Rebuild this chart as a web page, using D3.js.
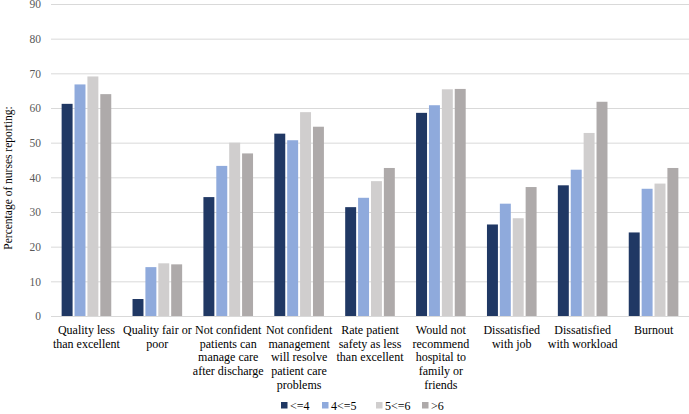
<!DOCTYPE html>
<html><head><meta charset="utf-8">
<script src="https://cdn.jsdelivr.net/npm/d3@7"></script>
<style>body{margin:0;background:#fff}svg{display:block}</style>
</head><body>
<svg id="c" width="689" height="414"></svg>
<script>
const categories = [
  ["Quality less","than excellent"],
  ["Quality fair or","poor"],
  ["Not confident","patients can","manage care","after discharge"],
  ["Not confident","management","will resolve","patient care","problems"],
  ["Rate patient","safety as less","than excellent"],
  ["Would not","recommend","hospital to","family or","friends"],
  ["Dissatisfied","with job"],
  ["Dissatisfied","with workload"],
  ["Burnout"]
];
const seriesNames = ["<=4","4<=5","5<=6",">6"];
const s1 = [61.2, 4.9, 34.3, 52.6, 31.4, 58.6, 26.4, 37.7, 24.1];
const s2 = [66.8, 14.1, 43.3, 50.7, 34.1, 60.8, 32.4, 42.2, 36.7];
const s3 = [69.1, 15.2, 50.0, 58.8, 38.9, 65.4, 28.2, 52.8, 38.2];
const s4 = [64.0, 14.9, 46.9, 54.6, 42.7, 65.5, 37.2, 61.8, 42.7];
const yTicks = [0,10,20,30,40,50,60,70,80,90];
const colors = ["#203864","#8faadc","#d0cece","#aeaaaa"];

(function(){
const series = [s1,s2,s3,s4];
const svg = d3.select("#c");
const mLeft = 51, mRight = 689, mTop = 4, mBottom = 316;
const font = "'Liberation Serif','Times New Roman',serif";

const x = d3.scaleBand().domain(d3.range(categories.length)).range([mLeft, mRight]).paddingInner(0.3).paddingOuter(0.15);
const xi = d3.scaleBand().domain(d3.range(series.length)).range([0, x.bandwidth()]).paddingInner(0.15);
const y = d3.scaleLinear().domain([0,90]).range([mBottom, mTop]);

svg.append("g").selectAll("line").data(yTicks).join("line")
  .attr("x1", mLeft).attr("x2", mRight)
  .attr("y1", d=>y(d)+0.5).attr("y2", d=>y(d)+0.5)
  .attr("stroke", "#d9d9d9").attr("stroke-width", 1);

const ya = svg.append("g").attr("transform", `translate(${mLeft-10},0)`)
  .call(d3.axisLeft(y).tickValues(yTicks).tickSize(0).tickPadding(0));
ya.select(".domain").remove();
ya.selectAll("text").attr("font-family", font).attr("font-size", 11.5).attr("fill", "#595959");

const g = svg.append("g");
series.forEach((s, si) => {
  g.selectAll(null).data(s).join("rect")
    .attr("x", (d,i)=>x(i)+xi(si))
    .attr("width", xi.bandwidth())
    .attr("y", d=>y(d))
    .attr("height", d=>y(0)-y(d))
    .attr("fill", colors[si]);
});

categories.forEach((lines, i) => {
  const cx = x(i)+x.bandwidth()/2;
  const t = svg.append("text").attr("x", cx).attr("y", 334)
    .attr("text-anchor","middle").attr("font-family", font).attr("font-size", 12).attr("fill","#000");
  lines.forEach((ln, k) => t.append("tspan").attr("x", cx).attr("dy", k===0?0:13.7).text(ln));
});

svg.append("text").attr("transform", `translate(12,178) rotate(-90)`)
  .attr("text-anchor","middle").attr("font-family", font).attr("font-size", 11.5).attr("fill","#000")
  .text("Percentage of nurses reporting:");

const legX = [281, 322, 376, 422];
const lg = svg.append("g");
seriesNames.forEach((n, i) => {
  lg.append("rect").attr("x", legX[i]).attr("y", 402).attr("width", 6.5).attr("height", 6.5).attr("fill", colors[i]);
  lg.append("text").attr("x", legX[i]+9).attr("y", 410).attr("font-family", font).attr("font-size", 12).attr("fill","#000").text(n);
});
})();
</script>
</body></html>
